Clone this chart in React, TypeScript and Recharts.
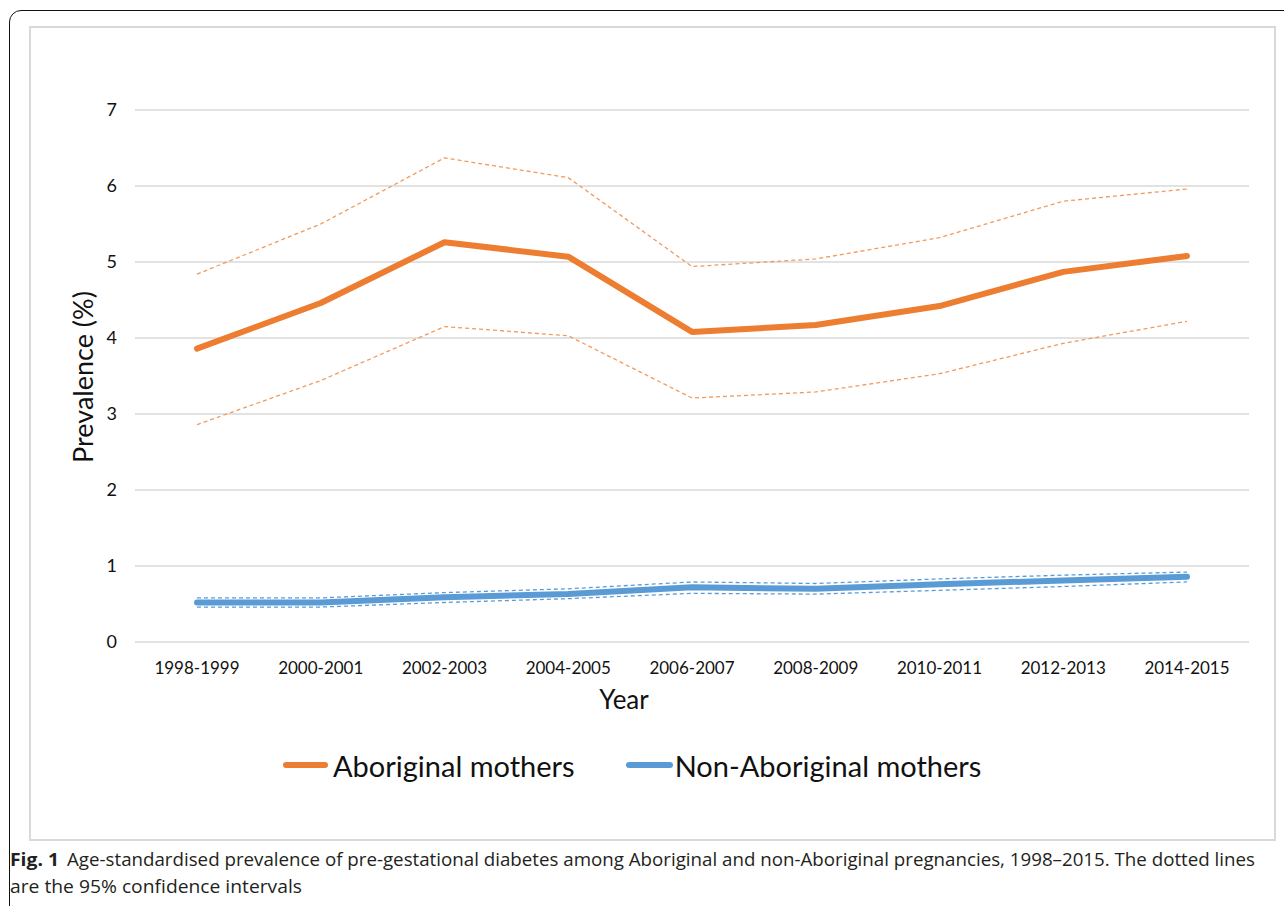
import React from 'react';
import { LineChart, Line, XAxis, YAxis, CartesianGrid } from 'recharts';

const categories = ['1998-1999', '2000-2001', '2002-2003', '2004-2005', '2006-2007', '2008-2009', '2010-2011', '2012-2013', '2014-2015'];
const aboriginal = [3.86, 4.46, 5.26, 5.07, 4.08, 4.17, 4.42, 4.87, 5.08];
const aboriginalUpper = [4.84, 5.5, 6.37, 6.11, 4.94, 5.04, 5.32, 5.8, 5.96];
const aboriginalLower = [2.86, 3.44, 4.15, 4.03, 3.21, 3.29, 3.53, 3.93, 4.22];
const nonAboriginal = [0.52, 0.52, 0.59, 0.63, 0.72, 0.7, 0.76, 0.81, 0.86];
const nonAboriginalUpper = [0.58, 0.58, 0.65, 0.7, 0.79, 0.77, 0.83, 0.88, 0.92];
const nonAboriginalLower = [0.46, 0.46, 0.52, 0.57, 0.64, 0.63, 0.68, 0.73, 0.79];
const yTicks = [0, 1, 2, 3, 4, 5, 6, 7];

const data = categories.map((year, i) => ({
  year,
  ab: aboriginal[i],
  abU: aboriginalUpper[i],
  abL: aboriginalLower[i],
  non: nonAboriginal[i],
  nonU: nonAboriginalUpper[i],
  nonL: nonAboriginalLower[i],
}));

const ORANGE = '#ED7D31';
const ORANGE_CI = '#F29A5C';
const BLUE = '#5B9BD5';
const BLUE_CI = '#5B9BD5';
const FONT = 'Lato, "Open Sans", sans-serif';

export default function App() {
  return (
    <div style={{ position: 'fixed', left: 0, top: 0, width: 1284, height: 906, overflow: 'hidden', background: '#fff' }}>
      {/* outer rounded frame */}
      <div style={{ position: 'absolute', left: 9, top: 10, width: 1300, height: 920, border: '1.5px solid #111', borderRadius: 12, boxSizing: 'border-box' }} />
      {/* inner chart box */}
      <div style={{ position: 'absolute', left: 29, top: 26, width: 1247, height: 815, border: '2px solid #d9d9d9', boxSizing: 'border-box' }} />
      <div style={{ position: 'absolute', left: 0, top: 0 }}>
        <LineChart width={1284} height={906} data={data} margin={{ top: 110, right: 35, bottom: 234, left: 75 }}>
          <CartesianGrid horizontal vertical={false} stroke="#d9d9d9" strokeWidth={1.5} />
          <XAxis
            dataKey="year"
            type="category"
            padding={{ left: 62, right: 62 }}
            axisLine={false}
            tickLine={false}
            height={30}
            tickMargin={14}
            interval={0}
            tick={{ fontSize: 17, fill: '#111', fontFamily: FONT }}
          />
          <YAxis
            domain={[0, 7]}
            ticks={yTicks}
            width={60}
            axisLine={false}
            tickLine={false}
            tickMargin={12}
            tick={{ fontSize: 18, fill: '#111', fontFamily: FONT }}
          />
          <Line dataKey="abU" stroke={ORANGE_CI} strokeWidth={1.3} strokeDasharray="4 3" dot={false} isAnimationActive={false} legendType="none" />
          <Line dataKey="abL" stroke={ORANGE_CI} strokeWidth={1.3} strokeDasharray="4 3" dot={false} isAnimationActive={false} legendType="none" />
          <Line dataKey="nonU" stroke={BLUE_CI} strokeWidth={1.3} strokeDasharray="4 3" dot={false} isAnimationActive={false} legendType="none" />
          <Line dataKey="nonL" stroke={BLUE_CI} strokeWidth={1.3} strokeDasharray="4 3" dot={false} isAnimationActive={false} legendType="none" />
          <Line dataKey="ab" name="Aboriginal mothers" stroke={ORANGE} strokeWidth={6} strokeLinecap="round" strokeLinejoin="round" dot={false} isAnimationActive={false} />
          <Line dataKey="non" name="Non-Aboriginal mothers" stroke={BLUE} strokeWidth={6} strokeLinecap="round" strokeLinejoin="round" dot={false} isAnimationActive={false} />
        </LineChart>
      </div>
      {/* axis titles */}
      <div style={{ position: 'absolute', left: 524, top: 683, width: 200, textAlign: 'center', fontFamily: FONT, fontSize: 26, color: '#111', lineHeight: '32px' }}>Year</div>
      <div style={{ position: 'absolute', left: 83, top: 377, width: 0, height: 0 }}>
        <div style={{ position: 'absolute', left: -150, top: -17, width: 300, textAlign: 'center', transform: 'rotate(-90deg)', fontFamily: FONT, fontSize: 27, color: '#111', lineHeight: '34px' }}>Prevalence (%)</div>
      </div>
      {/* legend */}
      <div style={{ position: 'absolute', left: 283, top: 745, height: 40, display: 'flex', alignItems: 'center', fontFamily: FONT, fontSize: 29, color: '#111' }}>
        <span style={{ display: 'inline-block', width: 45, height: 6, borderRadius: 3, background: ORANGE, marginRight: 5 }} />
        <span>Aboriginal mothers</span>
        <span style={{ display: 'inline-block', width: 47, height: 6, borderRadius: 3, background: BLUE, marginLeft: 51, marginRight: 2 }} />
        <span>Non-Aboriginal mothers</span>
      </div>
      {/* caption */}
      <svg width={1284} height={906} style={{ position: 'absolute', left: 0, top: 0 }}>
        <text x={10} y={866} fontFamily='"Open Sans", sans-serif' fontSize={18} fontWeight={700} fill="#231f20" textLength={49} lengthAdjust="spacingAndGlyphs">Fig. 1</text>
        <text x={67} y={866} fontFamily='"Open Sans", sans-serif' fontSize={18} fill="#231f20" textLength={1188} lengthAdjust="spacingAndGlyphs">Age-standardised prevalence of pre-gestational diabetes among Aboriginal and non-Aboriginal pregnancies, 1998–2015. The dotted lines</text>
        <text x={10} y={893} fontFamily='"Open Sans", sans-serif' fontSize={18} fill="#231f20" textLength={292} lengthAdjust="spacingAndGlyphs">are the 95% confidence intervals</text>
      </svg>
    </div>
  );
}
